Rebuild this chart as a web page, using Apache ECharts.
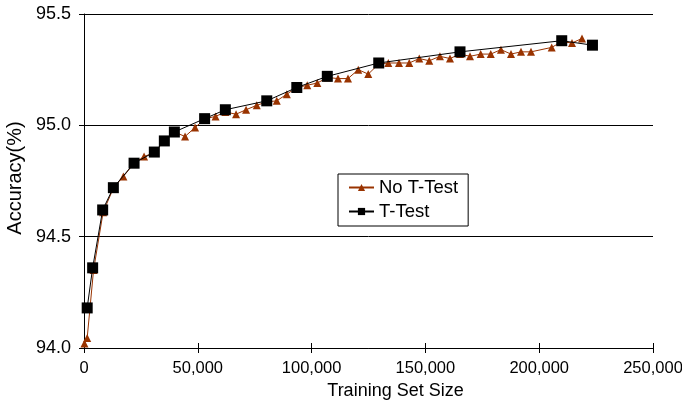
<!DOCTYPE html>
<html>
<head>
<meta charset="utf-8">
<script src="https://cdn.jsdelivr.net/npm/echarts@6/dist/echarts.min.js"></script>
<style>
  html, body { margin: 0; padding: 0; background: #fff; }
  #chart { width: 682px; height: 408px; }
</style>
</head>
<body>
<div id="chart"></div>
<script>
// No T-Test: [training set size, accuracy]
var noTTest = [
  [200, 94.02], [1400, 94.045], [4200, 94.35], [8400, 94.61], [13000, 94.72],
  [17300, 94.77], [22000, 94.83], [26400, 94.86], [30900, 94.877], [35300, 94.93],
  [39700, 94.97], [44400, 94.95], [48800, 94.99], [53200, 95.03], [57800, 95.04],
  [62100, 95.06], [66800, 95.05], [71200, 95.07], [75900, 95.09], [80200, 95.105],
  [84700, 95.11], [89100, 95.14], [93600, 95.17], [98100, 95.18], [102500, 95.19],
  [107000, 95.215], [111600, 95.21], [116000, 95.21], [120500, 95.25], [124900, 95.23],
  [129400, 95.275], [133700, 95.28], [138400, 95.28], [142900, 95.28], [147300, 95.30],
  [151700, 95.29], [156400, 95.31], [160800, 95.30], [165200, 95.32], [169600, 95.31],
  [174300, 95.32], [178700, 95.32], [183200, 95.34], [187600, 95.32], [192000, 95.33],
  [196400, 95.33], [205500, 95.35], [209800, 95.375], [214400, 95.37], [218800, 95.39]
];
// T-Test
var tTest = [
  [1400, 94.18], [3800, 94.36], [8200, 94.62], [12900, 94.72], [22000, 94.83],
  [30900, 94.88], [35300, 94.93], [39700, 94.97], [53000, 95.03], [62100, 95.07],
  [80300, 95.11], [93500, 95.17], [106900, 95.22], [129500, 95.28], [165200, 95.33],
  [209900, 95.38], [223400, 95.36]
];
var xTicks = [0, 50000, 100000, 150000, 200000, 250000];
var yTicks = [94.0, 94.5, 95.0, 95.5];

var font = "'Liberation Sans', Arial, sans-serif";
var chart = echarts.init(document.getElementById("chart"));

var option = {
  animation: false,
  textStyle: { fontFamily: font },
  grid: {
    left: 84, right: 29, top: 14, bottom: 60,
    containLabel: false,
    outerBoundsMode: "none",
  },
  legend: {
    orient: "vertical",
    left: 338,
    top: 174,
    padding: [3, 10, 4, 10],
    itemGap: 3,
    itemWidth: 25,
    itemHeight: 9,
    borderColor: "#000",
    borderWidth: 1,
    textStyle: { fontFamily: font, fontSize: 18.5, lineHeight: 21, color: "#000" },
    data: ["No T-Test", "T-Test"],
  },
  xAxis: [
    {
      type: "value",
      min: xTicks[0],
      max: xTicks[xTicks.length - 1],
      interval: 50000,
      name: "Training Set Size",
      nameLocation: "middle",
      nameGap: 33,
      // title sits a bit right of the plot centre
      nameTextStyle: { fontFamily: font, fontSize: 18, color: "#000", padding: [0, 0, 0, 54] },
      axisLine: { lineStyle: { color: "#000", width: 1 } },
      axisTick: { show: true, length: 5, lineStyle: { color: "#000" } },
      axisLabel: {
        fontFamily: font,
        fontSize: 16.5,
        color: "#000",
        margin: 12,
        formatter: function (v) {
          return v.toLocaleString("en-US");
        },
      },
      splitLine: { show: false },
    },
    {
      // inner half of the cross ticks
      type: "value",
      position: "bottom",
      min: xTicks[0],
      max: xTicks[xTicks.length - 1],
      interval: 50000,
      axisLine: { show: false },
      axisTick: { show: true, inside: true, length: 5, lineStyle: { color: "#000" } },
      axisLabel: { show: false },
      splitLine: { show: false },
    },
  ],
  yAxis: {
    type: "value",
    min: yTicks[0],
    max: yTicks[yTicks.length - 1],
    interval: 0.5,
    name: "Accuracy(%)",
    nameLocation: "middle",
    nameGap: 58,
    nameTextStyle: { fontFamily: font, fontSize: 20, color: "#000", padding: [0, 0, 0, 6] },
    axisLine: { show: true, lineStyle: { color: "#000", width: 1 } },
    axisTick: { show: true, length: 5, lineStyle: { color: "#000" } },
    axisLabel: {
      fontFamily: font,
      fontSize: 18,
      color: "#000",
      margin: 13,
      formatter: function (v) {
        return v.toFixed(1);
      },
    },
    splitLine: { show: true, lineStyle: { color: "#000", width: 1 } },
  },
  series: [
    {
      name: "No T-Test",
      type: "line",
      data: noTTest,
      symbol: "triangle",
      symbolSize: 8,
      color: "#993300",
      lineStyle: { color: "#993300", width: 1 },
      itemStyle: { color: "#993300" },
      z: 2,
    },
    {
      name: "T-Test",
      type: "line",
      data: tTest,
      symbol: "rect",
      symbolSize: 11,
      color: "#000",
      lineStyle: { color: "#000", width: 1 },
      itemStyle: { color: "#000" },
      z: 3,
    },
  ],
};
chart.setOption(option);
</script>
</body>
</html>
